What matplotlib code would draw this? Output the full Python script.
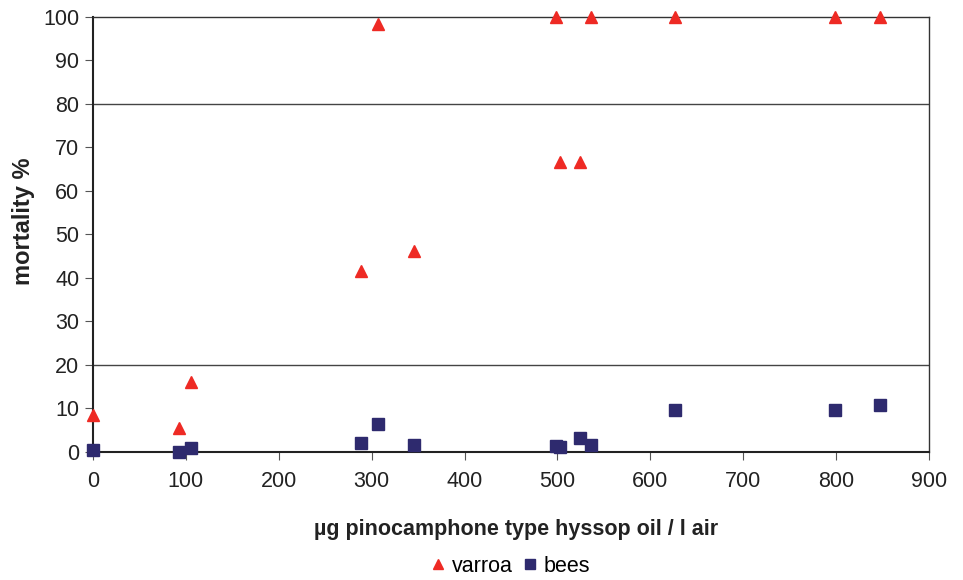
import matplotlib.pyplot as plt

plt.rcParams['font.family'] = ['Liberation Sans', 'DejaVu Sans']

# dose (µg / l air)
varroa_x = [0, 92.6, 105.5, 288.5, 306.8, 345.5, 498.4, 502.7, 524.2, 536, 626.5, 798.7, 847]
varroa_y = [8.5, 5.5, 16.1, 41.6, 98.4, 46.2, 100, 66.7, 66.7, 100, 100, 100, 100]

bees_x = [0, 92.6, 105.5, 288.5, 306.8, 345.5, 498.4, 502.7, 524.2, 536, 626.5, 798.7, 847]
bees_y = [0.5, 0.0, 1.0, 2.1, 6.4, 1.6, 1.4, 1.2, 3.3, 1.6, 9.7, 9.7, 10.7]

fig = plt.figure(figsize=(9.63, 5.8), dpi=100)
ax = fig.add_axes([0.0966, 0.2207, 0.8681, 0.75])

ax.axhline(20, color='#444444', lw=1, zorder=1)
ax.axhline(80, color='#444444', lw=1, zorder=1)

ax.plot(varroa_x, varroa_y, '^', color='#EE2A24', ms=9, ls='none',
        label='varroa', clip_on=False, zorder=3)
ax.plot(bees_x, bees_y, 's', color='#2E2A6E', ms=8.5, ls='none',
        label='bees', clip_on=False, zorder=3)

ax.set_xlim(0, 900)
ax.set_ylim(0, 100)
ax.set_xticks(range(0, 901, 100))
ax.set_yticks(range(0, 101, 10))
ax.tick_params(labelsize=15.5, color='#555555', length=6, direction='out',
               labelcolor='#222222')
ax.tick_params(axis='x', pad=8)
ax.tick_params(axis='y', pad=4)

for s in ['left', 'bottom']:
    ax.spines[s].set_color('#222222')
    ax.spines[s].set_linewidth(1.5)
for s in ['top', 'right']:
    ax.spines[s].set_color('#333333')
    ax.spines[s].set_linewidth(1)

ax.set_xlabel('µg pinocamphone type hyssop oil / l air', fontsize=15.5,
              fontweight='bold', color='#222222')
ax.xaxis.set_label_coords(0.506, -0.155)
ax.set_ylabel('mortality %', fontsize=17, fontweight='bold', color='#222222')
ax.yaxis.set_label_coords(-0.069, 0.531)

fig.legend(loc='lower center', bbox_to_anchor=(0.529, -0.028), ncol=2,
           frameon=False, fontsize=15.5, handletextpad=0.2, columnspacing=0.35,
           markerscale=0.8, handlelength=0.9)

fig.savefig('out.png', dpi=100)
